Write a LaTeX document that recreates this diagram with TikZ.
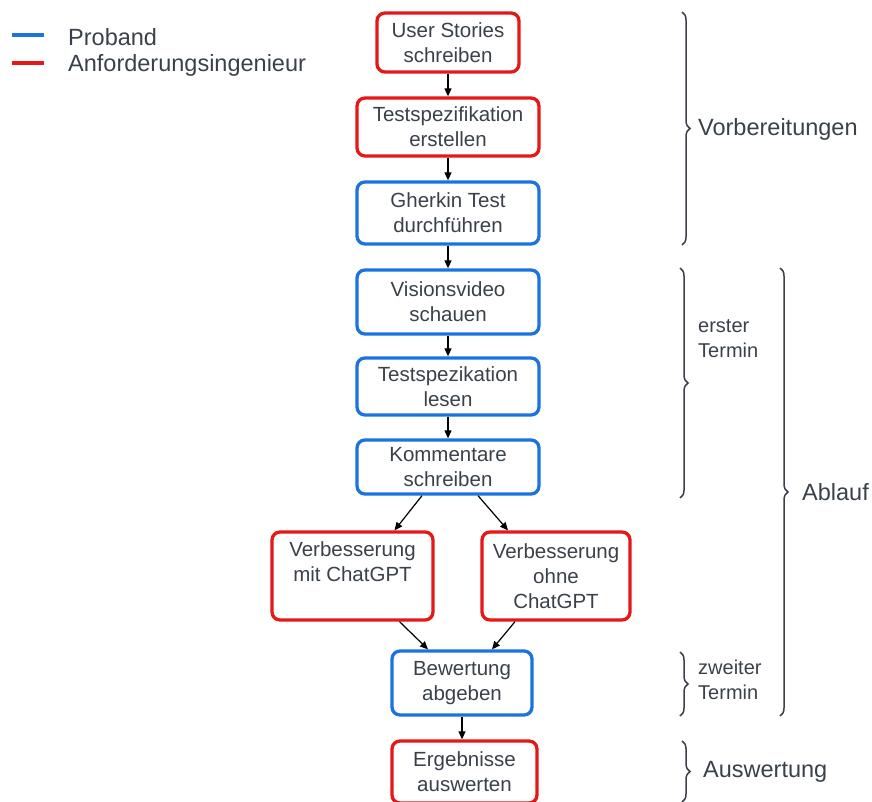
\documentclass[tikz,border=0pt]{standalone}
\usepackage{fontspec}
\setmainfont{Liberation Sans}
\usetikzlibrary{arrows.meta,decorations.pathreplacing}
\definecolor{txt}{HTML}{3A414A}
\definecolor{redc}{HTML}{E61717}
\definecolor{bluec}{HTML}{1A73E0}
\tikzset{
  box/.style={draw, rounded corners=8pt, line width=3.3pt, align=center, inner sep=0pt,
    font=\fontsize{20.5}{25}\selectfont, text=txt, fill=white},
  redbox/.style={box, draw=redc},
  bluebox/.style={box, draw=bluec},
  arr/.style={-{Triangle[length=8pt,width=7pt]}, line width=1.2pt, black},
  brc/.style={decorate, decoration={brace, amplitude=8pt}, draw=txt, line width=1.5pt},
  lbl/.style={anchor=west, text=txt, inner sep=0pt, align=left},
  big/.style={font=\fontsize{23.5}{28}\selectfont},
  small/.style={font=\fontsize{20}{25}\selectfont},
  legline/.style={line width=3.5pt}
}
\begin{document}
\begin{tikzpicture}[x=1pt,y=-1pt]
\useasboundingbox (0,0) rectangle (872,802);
\clip (0,0) rectangle (872,802);
% legend
\coordinate (lb1) at (12,35); \coordinate (lb2) at (44,35);
\coordinate (lr1) at (12,63); \coordinate (lr2) at (44,63);
\draw[legline, bluec] (lb1) -- (lb2);
\draw[legline, redc] (lr1) -- (lr2);
\node[lbl, big] (lp) at (68,37) {Proband};
\node[lbl, big] (la) at (68,65) {Anforderungsingenieur};
% boxes
\node[redbox, minimum width=142pt, minimum height=59pt] (b1) at (448,42.5) {User Stories\\schreiben};
\node[redbox, minimum width=182pt, minimum height=58pt] (b2) at (448,127) {Testspezifikation\\erstellen};
\node[bluebox, minimum width=182pt, minimum height=62pt] (b3) at (448,213) {Gherkin Test\\durchführen};
\node[bluebox, minimum width=182pt, minimum height=64pt] (b4) at (448,302) {Visionsvideo\\schauen};
\node[bluebox, minimum width=182pt, minimum height=57pt] (b5) at (448,386.5) {Testspezikation\\lesen};
\node[bluebox, minimum width=182pt, minimum height=54pt] (b6) at (448,467) {Kommentare\\schreiben};
\node[redbox, minimum width=161pt, minimum height=88pt] (b7) at (352.5,576) {Verbesserung\\mit ChatGPT\\[4pt]};
\node[redbox, minimum width=148pt, minimum height=88pt] (b8) at (556,576) {Verbesserung\\ohne\\ChatGPT};
\node[bluebox, minimum width=140pt, minimum height=64pt] (b9) at (462,683) {Bewertung\\abgeben};
\node[redbox, minimum width=145pt, minimum height=62pt] (b10) at (464.5,772) {Ergebnisse\\auswerten};
% arrows
\draw[arr] (b1.south) -- (b2.north);
\draw[arr] (b2.south) -- (b3.north);
\draw[arr] (b3.south) -- (b4.north);
\draw[arr] (b4.south) -- (b5.north);
\draw[arr] (b5.south) -- (b6.north);
\draw[arr] ([xshift=-26pt]b6.south) -- ([xshift=42pt]b7.north);
\draw[arr] ([xshift=30pt]b6.south) -- ([xshift=-48pt]b8.north);
\draw[arr] ([xshift=47pt]b7.south) -- ([xshift=-34pt]b9.north);
\draw[arr] ([xshift=-41pt]b8.south) -- ([xshift=30pt]b9.north);
\draw[arr] (b9.south) -- (b9.south |- b10.north);
% braces
\coordinate (v1) at (682,12); \coordinate (v2) at (682,245);
\draw[brc] (v1) -- (v2);
\node[lbl, big] (tv) at (698,129) {Vorbereitungen};
\coordinate (e1) at (680,268); \coordinate (e2) at (680,498);
\draw[brc] (e1) -- (e2);
\node[lbl, small] (te) at (698,339) {erster\\Termin};
\coordinate (a1) at (780,268); \coordinate (a2) at (780,716);
\draw[brc] (a1) -- (a2);
\node[lbl, big] (ta) at (802,492) {Ablauf};
\coordinate (z1) at (680,652); \coordinate (z2) at (680,716);
\draw[brc] (z1) -- (z2);
\node[lbl, small] (tz) at (698,680) {zweiter\\Termin};
\coordinate (w1) at (682,741); \coordinate (w2) at (682,802);
\draw[brc] (w1) -- (w2);
\node[lbl, big] (tw) at (703,772) {Auswertung};
\end{tikzpicture}
\end{document}
